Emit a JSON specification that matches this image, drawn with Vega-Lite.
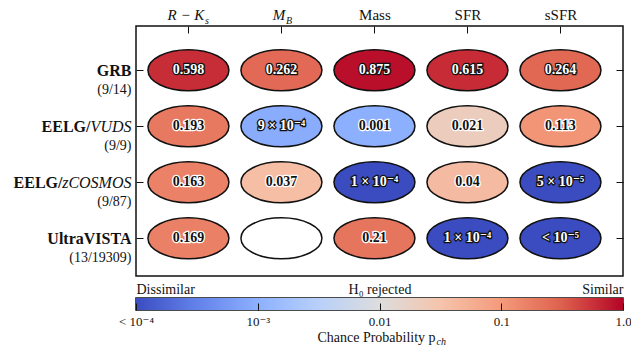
{
  "$schema": "https://vega.github.io/schema/vega-lite/v6.json",
  "padding": {"left": 12, "top": 6, "right": 0, "bottom": 0},
  "spacing": 4,
  "config": {
    "font": "'Liberation Serif', 'DejaVu Serif', serif",
    "view": {"stroke": "#111", "strokeWidth": 1.5},
    "axis": {"labelColor": "#111", "tickColor": "#111", "tickWidth": 1, "domain": false, "grid": false, "labelFont": "'Liberation Serif', 'DejaVu Serif', serif", "titleFont": "'Liberation Serif', 'DejaVu Serif', serif", "titleColor": "#111"}
  },
  "vconcat": [
    {
      "width": 487,
      "height": 250,
      "data": {
        "values": [
          {"sample": "GRB", "col": "RK", "p": 0.598, "label": "0.598"},
          {"sample": "GRB", "col": "MB", "p": 0.262, "label": "0.262"},
          {"sample": "GRB", "col": "Mass", "p": 0.875, "label": "0.875"},
          {"sample": "GRB", "col": "SFR", "p": 0.615, "label": "0.615"},
          {"sample": "GRB", "col": "sSFR", "p": 0.264, "label": "0.264"},
          {"sample": "VUDS", "col": "RK", "p": 0.193, "label": "0.193"},
          {"sample": "VUDS", "col": "MB", "p": 0.0009, "label": "9 × 10⁻⁴"},
          {"sample": "VUDS", "col": "Mass", "p": 0.001, "label": "0.001"},
          {"sample": "VUDS", "col": "SFR", "p": 0.021, "label": "0.021"},
          {"sample": "VUDS", "col": "sSFR", "p": 0.113, "label": "0.113"},
          {"sample": "zCOSMOS", "col": "RK", "p": 0.163, "label": "0.163"},
          {"sample": "zCOSMOS", "col": "MB", "p": 0.037, "label": "0.037"},
          {"sample": "zCOSMOS", "col": "Mass", "p": 0.0001, "label": "1 × 10⁻⁴"},
          {"sample": "zCOSMOS", "col": "SFR", "p": 0.04, "label": "0.04"},
          {"sample": "zCOSMOS", "col": "sSFR", "p": 0.00005, "label": "5 × 10⁻⁵"},
          {"sample": "UV", "col": "RK", "p": 0.169, "label": "0.169"},
          {"sample": "UV", "col": "MB", "p": null, "label": null},
          {"sample": "UV", "col": "Mass", "p": 0.21, "label": "0.21"},
          {"sample": "UV", "col": "SFR", "p": 0.0001, "label": "1 × 10⁻⁴"},
          {"sample": "UV", "col": "sSFR", "p": 0.00001, "label": "< 10⁻⁵"}
        ]
      },
      "layer": [
        {
          "transform": [{"filter": "datum.p != null"}],
          "mark": {
            "type": "point",
            "shape": "M-1,0C-1,-0.2795,-0.5523,-0.506,0,-0.506C0.5523,-0.506,1,-0.2795,1,0C1,0.2795,0.5523,0.506,0,0.506C-0.5523,0.506,-1,0.2795,-1,0Z",
            "size": 6561,
            "filled": true,
            "opacity": 1,
            "stroke": "#111",
            "strokeWidth": 1.5
          },
          "encoding": {
            "x": {
              "field": "col", "type": "nominal",
              "sort": ["RK", "MB", "Mass", "SFR", "sSFR"],
              "scale": {"type": "point", "padding": 0.618, "align": 0.456},
              "axis": {
                "orient": "top", "title": null, "ticks": false, "labelAngle": 0,
                "labelExpr": "datum.value == 'RK' ? 'R − K' : datum.value == 'MB' ? 'M' : datum.value",
                "labelFontSize": 15,
                "labelFontStyle": {"condition": {"test": "datum.value == 'RK' || datum.value == 'MB'", "value": "italic"}, "value": "normal"},
                "labelOffset": {"condition": {"test": "datum.value == 'RK' || datum.value == 'MB'", "value": -3}, "value": 0},
                "labelBaseline": "alphabetic",
                "labelPadding": 7
              }
            },
            "y": {
              "field": "sample", "type": "nominal",
              "sort": ["GRB", "VUDS", "zCOSMOS", "UV"],
              "scale": {"type": "point", "padding": 0.732, "align": 0.54},
              "axis": {
                "orient": "left", "title": null, "ticks": false,
                "labelExpr": "datum.value == 'GRB' ? 'GRB' : datum.value == 'UV' ? 'UltraVISTA' : 'EELG/'",
                "labelFontSize": 16, "labelFontWeight": "bold",
                "labelBaseline": "middle",
                "labelPadding": {"condition": [{"test": "datum.value == 'VUDS'", "value": 46}, {"test": "datum.value == 'zCOSMOS'", "value": 74}], "value": 5}
              }
            },
            "color": {
              "field": "p", "type": "quantitative", "legend": null,
              "scale": {
                "type": "log",
                "domain": [0.0001, 0.0003162, 0.001, 0.003162, 0.01, 0.03162, 0.1, 0.3162, 1],
                "range": ["#3b4cc0", "#6282ea", "#8db0fe", "#b8d0f9", "#dddddd", "#f5c4ac", "#f49a7b", "#de604d", "#b40426"],
                "clamp": true,
                "interpolate": "rgb"
              }
            }
          }
        },
        {
          "transform": [{"filter": "datum.p == null"}],
          "mark": {
            "type": "point",
            "shape": "M-1,0C-1,-0.2795,-0.5523,-0.506,0,-0.506C0.5523,-0.506,1,-0.2795,1,0C1,0.2795,0.5523,0.506,0,0.506C-0.5523,0.506,-1,0.2795,-1,0Z",
            "size": 6561,
            "filled": true,
            "opacity": 1,
            "fill": "white",
            "stroke": "#111",
            "strokeWidth": 1.5
          },
          "encoding": {
            "x": {
              "field": "col", "type": "nominal", "sort": ["RK", "MB", "Mass", "SFR", "sSFR"],
              "axis": {"orient": "top", "title": null, "labels": false, "ticks": true, "tickSize": -7}
            },
            "y": {
              "field": "sample", "type": "nominal", "sort": ["GRB", "VUDS", "zCOSMOS", "UV"],
              "axis": {"orient": "right", "title": null, "labels": false, "ticks": true, "tickSize": -7}
            }
          }
        },
        {
          "transform": [{"filter": "datum.label != null"}],
          "mark": {"type": "text", "font": "'Liberation Serif', 'DejaVu Serif', serif", "fontWeight": "bold", "fontSize": 14, "baseline": "middle", "align": "center", "strokeWidth": 2.5},
          "encoding": {
            "x": {
              "field": "col", "type": "nominal", "sort": ["RK", "MB", "Mass", "SFR", "sSFR"],
              "axis": {
                "orient": "top", "title": null, "ticks": false, "labelAngle": 0,
                "labelExpr": "datum.value == 'RK' ? 's' : datum.value == 'MB' ? 'B' : ''",
                "labelFontSize": 10, "labelFontStyle": "italic", "labelAlign": "left",
                "labelOffset": {"condition": {"test": "datum.value == 'RK'", "value": 16}, "value": 4},
                "labelBaseline": "alphabetic",
                "labelPadding": 3
              }
            },
            "y": {
              "field": "sample", "type": "nominal", "sort": ["GRB", "VUDS", "zCOSMOS", "UV"],
              "axis": {
                "orient": "left", "title": null, "ticks": false,
                "labelExpr": "datum.value == 'VUDS' ? 'VUDS' : datum.value == 'zCOSMOS' ? 'zCOSMOS' : ''",
                "labelFontSize": 16, "labelFontStyle": "italic", "labelBaseline": "middle", "labelPadding": 5
              }
            },
            "text": {"field": "label"},
            "stroke": {"condition": {"test": "datum.p >= 0.25 || datum.p < 0.00095", "value": "#111"}, "value": "white"},
            "fill": {"condition": {"test": "datum.p >= 0.25 || datum.p < 0.00095", "value": "white"}, "value": "#111"}
          }
        },
        {
          "transform": [{"filter": "datum.label != null"}],
          "mark": {"type": "text", "font": "'Liberation Serif', 'DejaVu Serif', serif", "fontWeight": "bold", "fontSize": 14, "baseline": "middle", "align": "center"},
          "encoding": {
            "x": {"field": "col", "type": "nominal", "sort": ["RK", "MB", "Mass", "SFR", "sSFR"], "axis": null},
            "y": {
              "field": "sample", "type": "nominal", "sort": ["GRB", "VUDS", "zCOSMOS", "UV"],
              "axis": {
                "orient": "left", "title": null, "ticks": true, "tickSize": -7,
                "labelExpr": "datum.value == 'GRB' ? '(9/14)' : datum.value == 'VUDS' ? '(9/9)' : datum.value == 'zCOSMOS' ? '(9/87)' : '(13/19309)'",
                "labelFontSize": 14, "labelBaseline": "middle", "labelOffset": 19, "labelPadding": 12
              }
            },
            "text": {"field": "label"},
            "fill": {"condition": {"test": "datum.p >= 0.25 || datum.p < 0.00095", "value": "white"}, "value": "#111"}
          }
        }
      ],
      "resolve": {"axis": {"x": "independent", "y": "independent"}}
    },
    {
      "width": 487,
      "height": 12,
      "data": {"values": [{"lo": 0.0001, "hi": 1}]},
      "layer": [
        {
          "mark": {
            "type": "rect",
            "fill": {
              "gradient": "linear", "x1": 0, "y1": 0, "x2": 1, "y2": 0,
              "stops": [
                {"offset": 0, "color": "#3b4cc0"},
                {"offset": 0.125, "color": "#6282ea"},
                {"offset": 0.25, "color": "#8db0fe"},
                {"offset": 0.375, "color": "#b8d0f9"},
                {"offset": 0.5, "color": "#dddddd"},
                {"offset": 0.625, "color": "#f5c4ac"},
                {"offset": 0.75, "color": "#f49a7b"},
                {"offset": 0.875, "color": "#de604d"},
                {"offset": 1, "color": "#b40426"}
              ]
            }
          },
          "encoding": {
            "x": {
              "field": "lo", "type": "quantitative",
              "scale": {"type": "log", "domain": [0.0001, 1], "nice": false},
              "axis": {
                "orient": "top", "values": [0.0001, 0.01, 1], "ticks": false, "labelFlush": false,
                "labelExpr": "datum.value < 0.001 ? 'Dissimilar' : datum.value < 0.1 ? 'H₀ rejected' : 'Similar'",
                "labelAlign": {"condition": [{"test": "datum.value < 0.001", "value": "left"}, {"test": "datum.value > 0.1", "value": "right"}], "value": "center"},
                "labelFontSize": 14, "labelBaseline": "alphabetic", "labelPadding": 5,
                "title": "ch", "titleX": 300, "titleY": 46, "titleAlign": "left", "titleBaseline": "alphabetic",
                "titleFontSize": 10, "titleFontStyle": "italic", "titleFontWeight": "normal"
              }
            },
            "x2": {"field": "hi"},
            "y": {"datum": 0, "type": "quantitative", "scale": {"domain": [0, 1], "nice": false, "zero": false}, "axis": null},
            "y2": {"datum": 1}
          }
        },
        {
          "mark": {"type": "rect", "fillOpacity": 0, "strokeOpacity": 0},
          "encoding": {
            "x": {
              "field": "lo", "type": "quantitative",
              "axis": {
                "orient": "bottom", "values": [0.0001, 0.001, 0.01, 0.1, 1], "ticks": true, "tickSize": -7,
                "labelFlush": false, "zindex": 1,
                "labelExpr": "datum.value < 0.0002 ? '< 10⁻⁴' : datum.value < 0.002 ? '10⁻³' : datum.value < 0.02 ? '0.01' : datum.value < 0.2 ? '0.1' : '1.0'",
                "labelFontSize": 13, "labelBaseline": "top", "labelPadding": 12,
                "title": "Chance Probability p", "titleX": 240, "titleY": 31, "titleAlign": "center", "titleBaseline": "alphabetic",
                "titleFontSize": 14, "titleFontWeight": "normal"
              }
            },
            "x2": {"field": "hi"},
            "y": {"datum": 0, "type": "quantitative", "axis": null},
            "y2": {"datum": 1}
          }
        }
      ],
      "resolve": {"axis": {"x": "independent"}}
    }
  ]
}
